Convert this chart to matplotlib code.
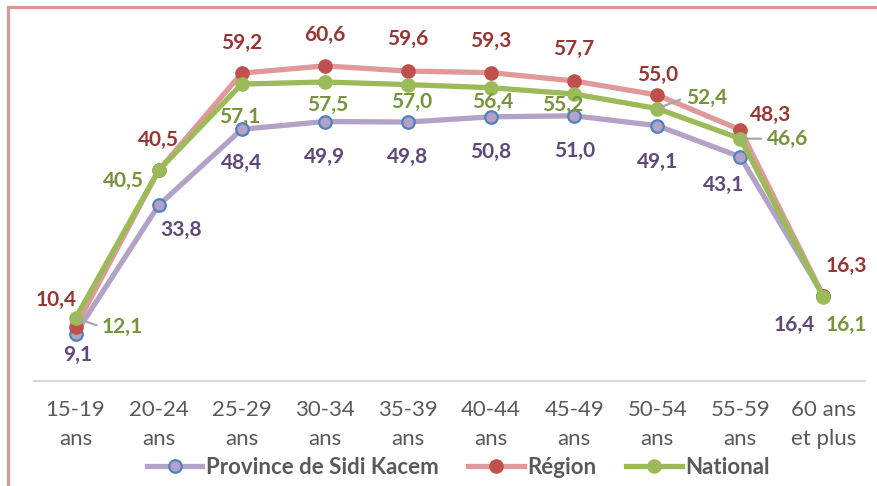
import matplotlib
matplotlib.use("Agg")
import matplotlib.pyplot as plt
from matplotlib.lines import Line2D
from matplotlib.patches import Rectangle

categories = ["15-19\nans", "20-24\nans", "25-29\nans", "30-34\nans", "35-39\nans",
              "40-44\nans", "45-49\nans", "50-54\nans", "55-59\nans", "60 ans\net plus"]
province = [9.1, 33.8, 48.4, 49.9, 49.8, 50.8, 51.0, 49.1, 43.1, 16.4]
region = [10.4, 40.5, 59.2, 60.6, 59.6, 59.3, 57.7, 55.0, 48.3, 16.3]
national = [12.1, 40.5, 57.1, 57.5, 57.0, 56.4, 55.2, 52.4, 46.6, 16.1]
series_names = ["Province de Sidi Kacem", "Région", "National"]

def fmt(v):
    return f"{v:.1f}".replace(".", ",")

FONT = "Lato"
W, H, DPI = 878, 486, 100
fig = plt.figure(figsize=(W / DPI, H / DPI), dpi=DPI)
fig.patch.set_facecolor("white")

# outer border (left and top visible)
fig.add_artist(Rectangle((8 / W, -0.2), 1.2, 1 - 7 / H + 0.2, transform=fig.transFigure,
                         fill=False, edgecolor="#d99694", linewidth=2.3))

x0, x1 = 34, 865
ybot, ytop = 381, 17
ax = fig.add_axes([x0 / W, 1 - ybot / H, (x1 - x0) / W, (ybot - ytop) / H])
ax.set_xlim(-0.5, len(categories) - 0.5)
ax.set_ylim(0, 70)
for s in ["left", "right", "top"]:
    ax.spines[s].set_visible(False)
ax.spines["bottom"].set_color("#d9d9d9")
ax.spines["bottom"].set_linewidth(1.6)
ax.set_yticks([])
xs = list(range(len(categories)))
ax.set_xticks(xs)
ax.set_xticklabels(categories, fontsize=16, color="#595959", family=FONT, linespacing=1.55)
ax.tick_params(axis="x", length=0, pad=14)

c_prov_line, c_prov_face, c_prov_edge = "#b3a2c7", "#b3a2c7", "#4f81bd"
c_reg_line, c_reg_mark = "#e0999a", "#c0504d"
c_nat = "#9bbb59"
lab_prov, lab_reg, lab_nat = "#5f497a", "#953735", "#77933c"

lw = 3.8
ax.plot(xs, province, color=c_prov_line, lw=lw, marker="o", ms=9,
        mfc=c_prov_face, mec=c_prov_edge, mew=1.6, zorder=3, clip_on=False)
ax.plot(xs, region, color=c_reg_line, lw=lw, marker="o", ms=9.5,
        mfc=c_reg_mark, mec=c_reg_mark, zorder=4, clip_on=False)
ax.plot(xs, national, color=c_nat, lw=lw, marker="o", ms=9.5,
        mfc=c_nat, mec=c_nat, zorder=5, clip_on=False)

# label offsets in pixels (dx, dy up positive)
off_reg = [(-19, 27), (0, 30), (0, 30), (0, 31), (0, 32), (0, 32), (0, 32), (0, 20), (30, 15), (23, 30)]
off_prov = [(2, -21), (22, -25), (0, -34), (0, -35), (0, -35), (0, -35), (0, -35), (0, -36), (-17, -28), (-29, -29)]
off_nat = [(47, -9), (-35, -11), (-2, -33), (3, -23), (4, -17), (2, -14), (-11, -11), (49, 11), (47, 0), (23, -28)]
leader_nat = {0, 7, 8}

fs_lab = 15
def lab(x, y, txt, off, color, leader=False):
    kw = {}
    if leader:
        kw["arrowprops"] = dict(arrowstyle="-", color="#a6a6a6", lw=1.6,
                                shrinkA=2, shrinkB=1, relpos=(0, 0.5))
    ax.annotate(txt, xy=(x, y), xytext=off, textcoords="offset pixels",
                ha="center", va="center", fontsize=fs_lab, fontweight="bold",
                color=color, family=FONT, zorder=6, annotation_clip=False, **kw)

for i in xs:
    lab(i, region[i], fmt(region[i]), off_reg[i], lab_reg)
    lab(i, province[i], fmt(province[i]), off_prov[i], lab_prov)
    lab(i, national[i], fmt(national[i]), off_nat[i], lab_nat, leader=i in leader_nat)

handles = [
    Line2D([], [], color=c_prov_line, lw=lw, marker="o", ms=9, mfc=c_prov_face,
           mec=c_prov_edge, mew=1.6),
    Line2D([], [], color=c_reg_line, lw=lw, marker="o", ms=9.5, mfc=c_reg_mark, mec=c_reg_mark),
    Line2D([], [], color=c_nat, lw=lw, marker="o", ms=9.5, mfc=c_nat, mec=c_nat),
]
leg = fig.legend(handles, series_names, loc="center", bbox_to_anchor=(0.522, 1 - 467 / H),
                 ncol=3, frameon=False, handlelength=2.5, handletextpad=0.15,
                 columnspacing=1.35, prop={"family": FONT, "weight": "bold", "size": 16})
for t in leg.get_texts():
    t.set_color("#595959")

fig.savefig("out.png", dpi=DPI, facecolor="white")
